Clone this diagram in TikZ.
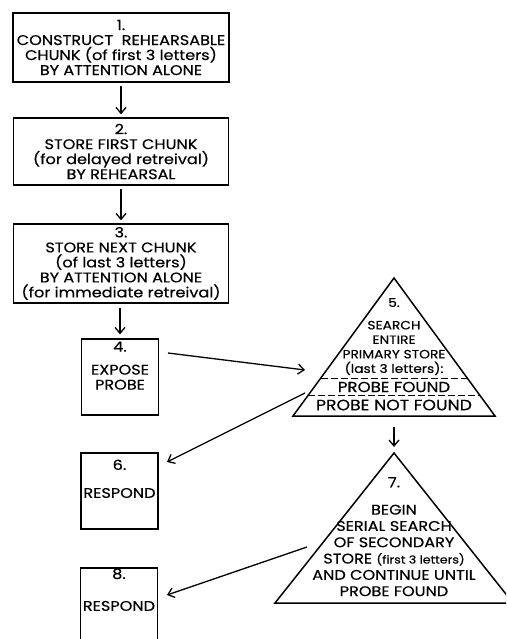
\documentclass[tikz,border=0pt]{standalone}
\usepackage{fontspec}
\setmainfont{Poppins}[FakeStretch=1.15, FakeBold=0.4]
\usetikzlibrary{arrows.meta, calc}

\begin{document}
\begin{tikzpicture}[x=1pt, y=-1pt,
        stepbox/.style={draw, line width=1.3pt, align=center, inner sep=0pt,
            font=\fontsize{14}{15}\selectfont},
        smallbox/.style={draw, line width=1.3pt, minimum width=77, minimum height=76, inner sep=0pt},
        inlabel/.style={anchor=north, align=center, inner sep=0pt, font=\fontsize{14}{15}\selectfont},
        tritext/.style={align=center, inner sep=0pt, font=\fontsize{14}{15}\selectfont},
        flow/.style={-{Straight Barb[length=6pt, width=10pt]}, line width=1.3pt}]
        \useasboundingbox (0,0) rectangle (506,639);
        \clip (0,0) rectangle (506,639);

        % Storing steps
        \node[stepbox, minimum width=216, minimum height=69] (construct) at (121,47.5)
            {1.\\CONSTRUCT\ \ REHEARSABLE\\CHUNK (of first 3 letters)\\BY ATTENTION ALONE};
        \node[stepbox, minimum width=215, minimum height=67] (storefirst) at (121,151.5)
            {2.\\STORE FIRST CHUNK\\(for delayed retreival)\\BY REHEARSAL};
        \node[stepbox, minimum width=215, minimum height=79] (storenext) at (121,263.5)
            {3.\\STORE NEXT CHUNK\\(of last 3 letters)\\BY ATTENTION ALONE\\(for immediate retreival)};

        % Probe and responses
        \node[smallbox, label={[inlabel, yshift=-3pt]north:{4.\\[8pt]EXPOSE\\PROBE}}] (expose) at (120,377) {};
        \node[smallbox, label={[inlabel, yshift=-7pt]north:{6.\\[13pt]RESPOND}}] (respondA) at (119.5,491) {};
        \node[smallbox, label={[inlabel, yshift=-1pt]north:{8.\\[17pt]RESPOND}}] (respondB) at (119,606) {};

        \draw[flow, shorten <=3pt, shorten >=3pt] (construct) -- (storefirst);
        \draw[flow, shorten <=3pt, shorten >=3pt] (storefirst) -- (storenext);
        \draw[flow, shorten <=4pt, shorten >=4pt] (storenext.south -| expose.north) -- (expose.north);

        % Primary store search
        \coordinate (primtop) at (394,278);
        \coordinate (primleft) at (293,416);
        \coordinate (primright) at (495,416);
        \draw[line width=1.5pt, line join=miter] (primtop) -- (primleft) -- (primright) -- cycle;
        \draw[line width=1pt, dash pattern=on 7pt off 3pt]
            ($(primtop)!0.725!(primleft)$) -- ($(primtop)!0.725!(primright)$);
        \draw[line width=1pt, dash pattern=on 7pt off 3pt]
            ($(primtop)!0.848!(primleft)$) -- ($(primtop)!0.848!(primright)$);
        \node[tritext, anchor=north, font=\fontsize{12}{14.5}\selectfont] (search) at (394,298)
            {5.\\[8pt]SEARCH\\ENTIRE\\PRIMARY STORE\\(last 3 letters):};
        \node[tritext, font=\fontsize{14.5}{15}\selectfont] (found) at (394,387) {PROBE FOUND};
        \node[tritext, font=\fontsize{15}{15}\selectfont] (notfound) at (394,405) {PROBE NOT FOUND};

        % Secondary store search
        \coordinate (sectop) at (394,453);
        \coordinate (secleft) at (275,603);
        \coordinate (secright) at (513,603);
        \draw[line width=1.5pt, line join=miter] (sectop) -- (secleft) -- (secright) -- cycle;
        \node[tritext, anchor=north, font=\fontsize{14}{16.3}\selectfont] (serial) at (394,477)
            {7.\\[11pt]BEGIN\\SERIAL SEARCH\\OF SECONDARY\\STORE {\fontsize{11}{16.3}\selectfont(first 3 letters)}\\AND CONTINUE UNTIL\\PROBE FOUND};

        % Connectors between the two columns
        \coordinate (exposeout) at (168,353);
        \coordinate (primin) at (305,370);
        \coordinate (foundout) at (305,393);
        \coordinate (respondAin) at (167,462);
        \coordinate (secout) at (307,547);
        \coordinate (respondBin) at (167,595);
        \coordinate (primbase) at (394,416);

        \draw[flow] (exposeout) -- (primin);
        \draw[flow] (foundout) -- (respondAin);
        \draw[flow] (secout) -- (respondBin);
        \draw[flow, shorten <=11pt, shorten >=6pt] (primbase) -- (sectop);
    \end{tikzpicture}
\end{document}
